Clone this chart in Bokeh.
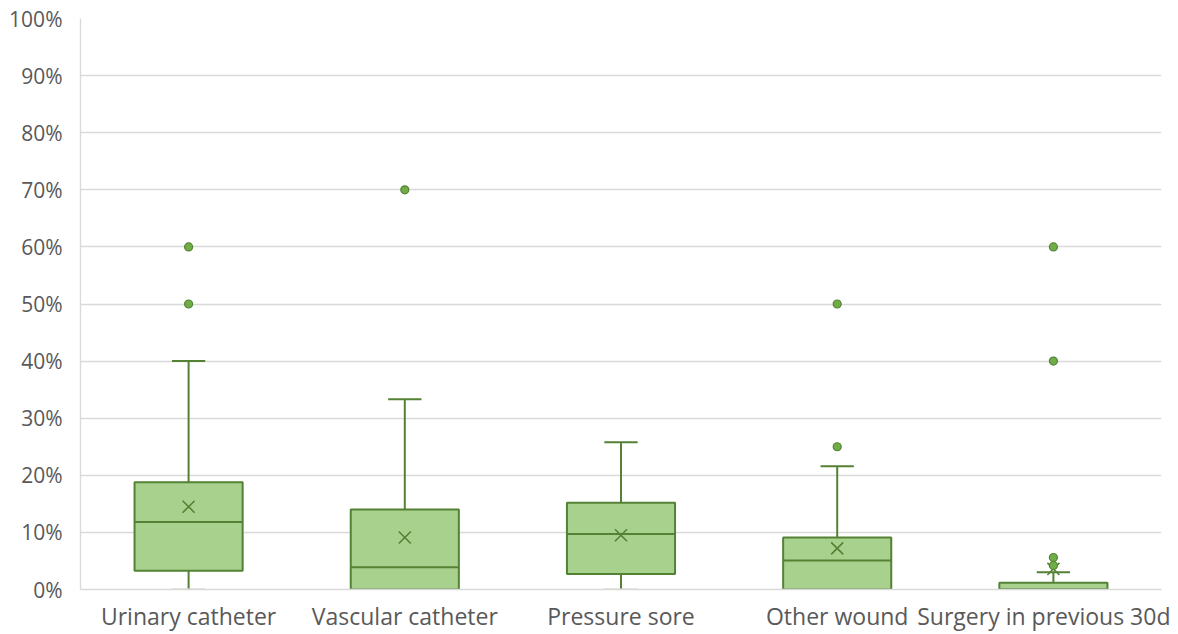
from bokeh.plotting import figure
from bokeh.models import FixedTicker, NumeralTickFormatter, Range1d, ColumnDataSource
from bokeh.embed import file_html
from bokeh.resources import INLINE

categories = ["Urinary catheter", "Vascular catheter", "Pressure sore", "Other wound", "Surgery in previous 30d"]
q1 = [0.033, 0.0, 0.027, 0.0, 0.0]
median = [0.118, 0.039, 0.097, 0.051, 0.0]
q3 = [0.188, 0.140, 0.152, 0.091, 0.012]
mean = [0.145, 0.091, 0.095, 0.072, 0.036]
whisker_low = [0.0, 0.0, 0.0, 0.0, 0.0]
whisker_high = [0.40, 0.333, 0.258, 0.216, 0.030]
outlier_cat = [0, 0, 1, 3, 3, 4, 4, 4, 4]
outlier_val = [0.60, 0.50, 0.70, 0.50, 0.25, 0.60, 0.40, 0.056, 0.042]

fill = "#a9d18e"
line = "#548235"
grid = "#d9d9d9"
label_col = "#595959"

xc = [i + 0.5 for i in range(len(categories))]
cap = 0.077

p = figure(width=1170, height=634, output_backend="svg", toolbar_location=None,
           x_range=Range1d(0, 5), y_range=Range1d(0, 1),
           min_border_left=80, min_border_right=9, min_border_top=18, min_border_bottom=40)
p.outline_line_color = None
p.xgrid.grid_line_color = None
p.ygrid.grid_line_color = grid
p.ygrid.grid_line_width = 1.3
p.yaxis.ticker = FixedTicker(ticks=[i / 10 for i in range(11)])
p.yaxis.formatter = NumeralTickFormatter(format="0%")
p.xaxis.ticker = FixedTicker(ticks=xc)
p.xaxis.major_label_overrides = {x: c for x, c in zip(xc, categories)}
for ax in (p.xaxis, p.yaxis):
    ax.major_tick_line_color = None
    ax.minor_tick_line_color = None
    ax.axis_line_color = grid
    ax.axis_line_width = 1.3
    ax.major_label_text_color = label_col
    ax.major_label_text_font = "Open Sans"
p.yaxis.major_label_text_font_size = "21px"
p.xaxis.major_label_text_font_size = "23px"
p.yaxis.major_label_standoff = 12
p.xaxis.major_label_standoff = 4

src = ColumnDataSource(dict(x=xc, q1=q1, q3=q3, med=median, mean=mean, lo=whisker_low, hi=whisker_high,
                            xl=[x - cap for x in xc], xr=[x + cap for x in xc],
                            bl=[x - 0.25 for x in xc], br=[x + 0.25 for x in xc]))

# whiskers
p.segment(x0="x", x1="x", y0="q3", y1="hi", source=src, line_color=line, line_width=2)
p.segment(x0="x", x1="x", y0="lo", y1="q1", source=src, line_color=line, line_width=2)
p.segment(x0="xl", x1="xr", y0="hi", y1="hi", source=src, line_color=line, line_width=2)
p.segment(x0="xl", x1="xr", y0="lo", y1="lo", source=src, line_color="#c8d3bf", line_width=2)
# boxes
p.quad(left="bl", right="br", bottom="q1", top="q3", source=src, fill_color=fill, line_color=line, line_width=2)
p.segment(x0="bl", x1="br", y0="med", y1="med", source=src, line_color=line, line_width=2)
# means
p.scatter(x="x", y="mean", source=src, marker="x", size=17, line_color=line, line_width=1.6)
# outliers
p.scatter(x=[xc[i] for i in outlier_cat], y=outlier_val, marker="circle", size=8,
          fill_color="#70ad47", line_color=line, line_width=1.2)

open("out.html", "w").write(file_html(p, INLINE))
